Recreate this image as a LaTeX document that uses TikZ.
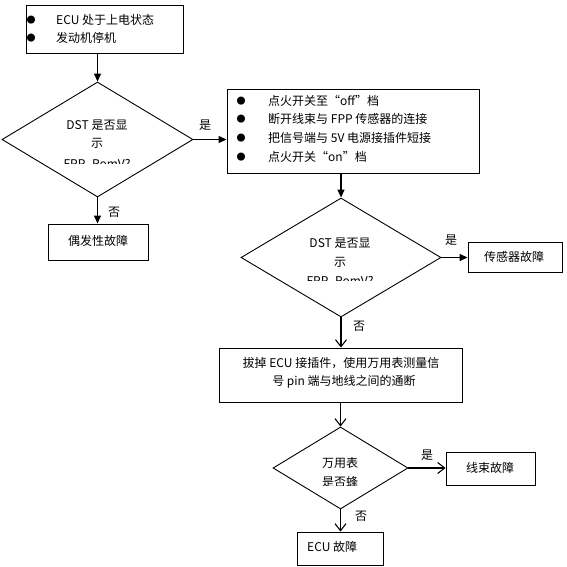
\documentclass[tikz,border=0pt]{standalone}
\usepackage{fontspec}
\setmainfont{Noto Sans CJK SC}
\usetikzlibrary{shapes.geometric,arrows.meta}
\begin{document}
\begin{tikzpicture}[x=1pt,y=-1pt,
  box/.style={draw,line width=0.9pt,inner sep=0pt},
  dia/.style={draw,diamond,line width=0.9pt,inner sep=0pt},
  txt/.style={inner sep=0pt,font=\fontsize{12}{14}\selectfont},
  bul/.style={inner sep=0pt,font=\fontsize{9}{10}\selectfont},
  lbl/.style={inner sep=0pt,font=\fontsize{12}{14}\selectfont},
  farr/.style={line width=1.3pt,-{Triangle[length=8pt,width=7pt]}},
  oarr/.style={line width=1.1pt,-{Straight Barb[length=7pt,width=11pt]}}]
\useasboundingbox (0,0) rectangle (566,567);
% boxes
\node[box,minimum width=157pt,minimum height=48pt] (b1) at (104.5,29) {};
\node[box,minimum width=252pt,minimum height=84pt] (b2) at (353,131) {};
\node[box,minimum width=100pt,minimum height=36pt] (b3) at (98,242) {};
\node[box,minimum width=94pt,minimum height=30pt] (b4) at (515,257) {};
\node[box,minimum width=243pt,minimum height=54pt] (b5) at (340.5,375) {};
\node[box,minimum width=89pt,minimum height=33pt] (b6) at (490.5,468.5) {};
\node[box,minimum width=86pt,minimum height=33pt] (b7) at (340,548.5) {};
% diamonds
\node[dia,minimum width=191pt,minimum height=115pt] (d1) at (97.5,139.5) {};
\node[dia,minimum width=200pt,minimum height=119pt] (d2) at (341,257.5) {};
\node[dia,minimum width=135pt,minimum height=82pt] (d3) at (340.5,468) {};
% box1 text
\node[bul] (p1) at (31,20) {●};
\node[bul] (p2) at (31,38) {●};
\node[txt,anchor=west] (t1) at (56,20) {ECU 处于上电状态};
\node[txt,anchor=west] (t2) at (56,38) {发动机停机};
% box2 text
\node[bul] (q1) at (241,101) {●};
\node[bul] (q2) at (241,119) {●};
\node[bul] (q3) at (241,138) {●};
\node[bul] (q4) at (241,157) {●};
\node[txt,anchor=west] (s1) at (268,101) {点火开关至“off”档};
\node[txt,anchor=west] (s2) at (268,119) {断开线束与 FPP 传感器的连接};
\node[txt,anchor=west] (s3) at (268,138) {把信号端与 5V 电源接插件短接};
\node[txt,anchor=west] (s4) at (268,157) {点火开关“on”档};
% other box texts
\node[txt] (u1) at (98,241) {偶发性故障};
\node[txt] (u2) at (514,257) {传感器故障};
\node[txt] (u3) at (341,363) {拔掉 ECU 接插件，使用万用表测量信};
\node[txt] (u4) at (344,382) {号 pin 端与地线之间的通断};
\node[txt] (u5) at (490,468) {线束故障};
\node[txt,anchor=west] (u6) at (307,547) {ECU 故障};
% diamond texts (clipped)
\begin{scope}
\clip (40,112) rectangle (160,163);
\node[txt] (v1) at (97,125) {DST 是否显};
\node[txt] (v2) at (97,143) {示};
\node[txt] (v3) at (97,165) {FPP\_RomV?};
\end{scope}
\begin{scope}
\clip (280,230) rectangle (400,280);
\node[txt] (w1) at (340,243) {DST 是否显};
\node[txt] (w2) at (340,262) {示};
\node[txt] (w3) at (340,282) {FPP\_RomV?};
\end{scope}
\begin{scope}
\clip (300,452) rectangle (380,485);
\node[txt] (x1) at (340,463) {万用表};
\node[txt] (x2) at (340,482) {是否蜂};
\end{scope}
% connectors
\draw[farr] (b1.south -| d1.north) -- (d1.north);
\draw[farr] (d1.south) -- (b3.north -| d1.south);
\draw[farr] (d1.east) -- (d1.east -| b2.west);
\draw[farr] (b2.south -| d2.north) -- (d2.north);
\draw[farr] (d2.east) -- (d2.east -| b4.west);
\draw[oarr] (d2.south) -- (b5.north -| d2.south);
\draw[oarr] (b5.south -| d3.north) -- (d3.north);
\draw[oarr] (d3.east) -- (d3.east -| b6.west);
\draw[oarr] (d3.south) -- (b7.north -| d3.south);
% labels
\node[lbl] (l1) at (205,125) {是};
\node[lbl] (l2) at (114,212) {否};
\node[lbl] (l3) at (451,240) {是};
\node[lbl] (l4) at (359,326) {否};
\node[lbl] (l5) at (427,455) {是};
\node[lbl] (l6) at (361,516) {否};
\end{tikzpicture}
\end{document}
